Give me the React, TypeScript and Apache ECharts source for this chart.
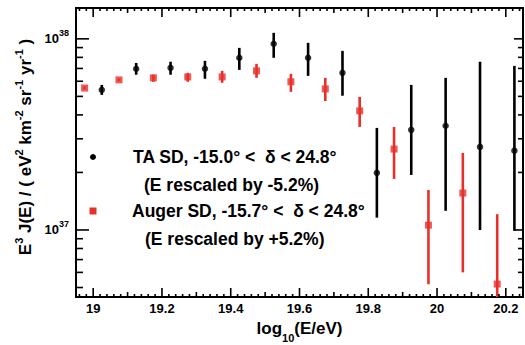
import React, { useEffect, useRef } from 'react';
import * as echarts from 'echarts';

const FONT = "'Liberation Sans', Arial, Helvetica, sans-serif";
const RED = '#e8302a';

// TA SD (black)
const taX = [19.025, 19.125, 19.225, 19.325, 19.425, 19.525, 19.625, 19.725, 19.825, 19.925, 20.025, 20.125, 20.225];
const taY = [5.41e37, 6.97e37, 7.05e37, 6.97e37, 7.96e37, 9.42e37, 7.96e37, 6.64e37, 1.99e37, 3.34e37, 3.51e37, 2.72e37, 2.6e37];
const taLo = [5.09e37, 6.49e37, 6.49e37, 6.18e37, 6.88e37, 7.96e37, 6.4e37, 5.04e37, 1.16e37, 1.94e37, 1.26e37, 1.0e37, 0.99e37];
const taHi = [5.74e37, 7.48e37, 7.59e37, 7.67e37, 8.97e37, 10.75e37, 9.53e37, 8.65e37, 3.42e37, 5.74e37, 6.25e37, 7.59e37, 7.22e37];

// Auger SD (red)
const augerX = [18.975, 19.075, 19.175, 19.275, 19.375, 19.475, 19.575, 19.675, 19.775, 19.875, 19.975, 20.075, 20.175];
const augerY = [5.53e37, 6.1e37, 6.25e37, 6.32e37, 6.32e37, 6.8e37, 5.96e37, 5.47e37, 4.2e37, 2.65e37, 1.06e37, 1.56e37, 0.521e37];
const augerLo = [5.44e37, 6.01e37, 5.96e37, 5.96e37, 5.89e37, 6.25e37, 5.28e37, 4.73e37, 3.46e37, 1.85e37, 0.52e37, 0.6e37, 0.3e37];
const augerHi = [5.62e37, 6.19e37, 6.49e37, 6.64e37, 6.8e37, 7.4e37, 6.56e37, 6.25e37, 4.97e37, 3.46e37, 1.62e37, 2.53e37, 1.21e37];

const xTickValues = [19, 19.2, 19.4, 19.6, 19.8, 20, 20.2];
const yTickExponents = [37, 38];

const legendLines = [
  'TA SD, -15.0° <  δ < 24.8°',
  '(E rescaled by -5.2%)',
  'Auger SD, -15.7° <  δ < 24.8°',
  '(E rescaled by +5.2%)',
];

const X_MIN = 18.95;
const X_MAX = 20.25;
const Y_MIN = 4.46e36;
const Y_MAX = 1.45e38;

function buildTicks() {
  const out: number[][] = [];
  for (let k = 948; k <= 1012; k++) {
    const v = k / 50;
    const len = k % 10 === 0 ? 9 : k % 5 === 0 ? 5 : 3;
    out.push([0, v, len]);
  }
  for (let e = 36; e <= 38; e++) {
    for (let m = 1; m <= 9; m++) {
      const v = m * Math.pow(10, e);
      if (v < Y_MIN || v > Y_MAX) continue;
      out.push([1, v, m === 1 ? 1 : 0]);
    }
  }
  return out;
}

const bold = { fontFamily: FONT, fontWeight: 'bold' as const, color: '#000' };

function errorBarSeries(xs: number[], ys: number[], lo: number[], hi: number[], color: string) {
  return {
    type: 'custom',
    silent: true,
    clip: true,
    xAxisIndex: 0,
    yAxisIndex: 0,
    data: xs.map((x, i) => [x, ys[i], lo[i], hi[i]]),
    encode: { x: 0, y: 1 },
    renderItem: (params: any, api: any) => {
      const x = api.value(0);
      const p1 = api.coord([x, api.value(2)]);
      const p2 = api.coord([x, api.value(3)]);
      return {
        type: 'line',
        shape: { x1: p1[0], y1: p1[1], x2: p2[0], y2: p2[1] },
        style: { stroke: color, lineWidth: 2.6 },
      };
    },
    z: 3,
  };
}

const legendPos = [
  { x: 133, y: 157 },
  { x: 144, y: 185 },
  { x: 132, y: 211 },
  { x: 145, y: 239 },
];

const option: any = {
  animation: false,
  grid: {
    left: 76,
    right: 2,
    top: 8,
    bottom: 48,
    show: true,
    borderColor: '#000',
    borderWidth: 2,
    backgroundColor: 'transparent',
    outerBoundsMode: 'none',
  },
  xAxis: {
    type: 'value',
    min: X_MIN,
    max: X_MAX,
    splitNumber: 6,
    axisLine: { show: false },
    axisTick: { show: false },
    splitLine: { show: false },
    axisLabel: {
      ...bold,
      fontSize: 13,
      margin: 5,
      formatter: (v: number) =>
        xTickValues.some((t) => Math.abs(t - v) < 1e-6) ? String(Math.round(v * 10) / 10) : '',
    },
    name: '{a|log}{s|10}{a|(E/eV)}',
    nameLocation: 'middle',
    nameGap: 16,
    nameTextStyle: {
      ...bold,
      rich: {
        a: { ...bold, fontSize: 17, lineHeight: 30 },
        s: { ...bold, fontSize: 11, lineHeight: 10, verticalAlign: 'bottom' },
      },
    },
  },
  yAxis: {
    type: 'log',
    logBase: 10,
    min: Y_MIN,
    max: Y_MAX,
    axisLine: { show: false },
    axisTick: { show: false },
    splitLine: { show: false },
    axisLabel: {
      ...bold,
      margin: 7,
      formatter: (v: number) => {
        const e = Math.round(Math.log10(v));
        if (Math.abs(Math.log10(v) - e) < 1e-6 && yTickExponents.includes(e)) {
          return '{b|10}{s|' + e + '}';
        }
        return '';
      },
      rich: {
        b: { ...bold, fontSize: 13, lineHeight: 20 },
        s: { ...bold, fontSize: 9, lineHeight: 10, verticalAlign: 'top' },
      },
    },
  },
  graphic: [
    {
      type: 'text',
      x: 25,
      y: 147,
      rotation: Math.PI / 2,
      silent: true,
      style: {
        text: 'E{sup|3} J(E) / ( eV{sup|2} km{sup|-2} sr{sup|-1} yr{sup|-1} )',
        align: 'center',
        verticalAlign: 'middle',
        fontFamily: FONT,
        fontWeight: 'bold',
        fontSize: 17,
        fill: '#000',
        rich: {
          sup: { fontFamily: FONT, fontWeight: 'bold', fontSize: 11, lineHeight: 10, verticalAlign: 'top', fill: '#000' },
        },
        lineHeight: 24,
      },
    },
    { type: 'circle', silent: true, shape: { cx: 93, cy: 157, r: 3 }, style: { fill: '#000' } },
    { type: 'rect', silent: true, shape: { x: 89.5, y: 207.5, width: 7, height: 7 }, style: { fill: RED } },
    ...legendLines.map((t, i) => ({
      type: 'text',
      x: legendPos[i].x,
      y: legendPos[i].y,
      silent: true,
      style: {
        text: t,
        align: 'left',
        verticalAlign: 'middle',
        fontFamily: FONT,
        fontWeight: 'bold',
        fontSize: 17.5,
        fill: '#000',
      },
    })),
  ],
  series: [
    {
      type: 'custom',
      silent: true,
      data: buildTicks(),
      encode: { x: 0, y: 1 },
      renderItem: (params: any, api: any) => {
        const cs = params.coordSys;
        const kind = api.value(0);
        const v = api.value(1);
        const f = api.value(2);
        const st = { stroke: '#000', lineWidth: 1.6 };
        if (kind === 0) {
          const px = api.coord([v, Y_MAX])[0];
          const b = cs.y + cs.height;
          return {
            type: 'group',
            children: [
              { type: 'line', shape: { x1: px, y1: b, x2: px, y2: b - f }, style: st },
              { type: 'line', shape: { x1: px, y1: cs.y, x2: px, y2: cs.y + f }, style: st },
            ],
          };
        }
        const py = api.coord([X_MIN, v])[1];
        const l = f === 1 ? 13 : 7;
        const r = f === 1 ? 9 : 5;
        const xr = cs.x + cs.width;
        return {
          type: 'group',
          children: [
            { type: 'line', shape: { x1: cs.x, y1: py, x2: cs.x + l, y2: py }, style: st },
            { type: 'line', shape: { x1: xr, y1: py, x2: xr - r, y2: py }, style: st },
          ],
        };
      },
      z: 5,
    },
    errorBarSeries(augerX, augerY, augerLo, augerHi, RED),
    errorBarSeries(taX, taY, taLo, taHi, '#000'),
    {
      type: 'scatter',
      silent: true,
      symbol: 'rect',
      symbolSize: 7,
      itemStyle: { color: RED },
      data: augerX.map((x, i) => [x, augerY[i]]),
      z: 4,
    },
    {
      type: 'scatter',
      silent: true,
      symbol: 'circle',
      symbolSize: 6.5,
      itemStyle: { color: '#000' },
      data: taX.map((x, i) => [x, taY[i]]),
      z: 4,
    },
  ],
};

export default function App() {
  const ref = useRef<HTMLDivElement>(null);
  useEffect(() => {
    const chart = echarts.init(ref.current!, null, { renderer: 'svg' });
    chart.setOption(option);
    return () => chart.dispose();
  }, []);
  return (
    <div
      ref={ref}
      style={{ position: 'fixed', left: 0, top: 0, width: 525, height: 345, background: '#fff' }}
    />
  );
}
